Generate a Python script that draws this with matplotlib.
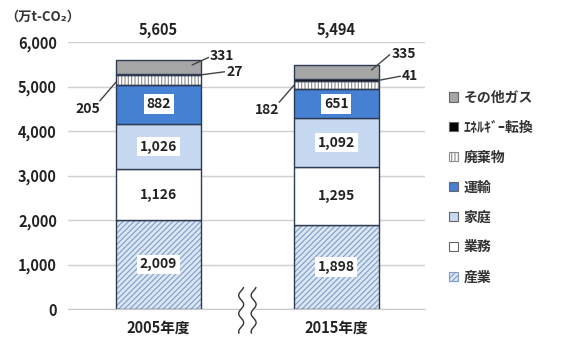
"""
Stacked CO2 emissions by sector, 2005 vs 2015.
"""

import numpy as np
import matplotlib.pyplot as plt
from matplotlib.patches import Patch
from matplotlib.transforms import blended_transform_factory

YEARS = ["2005年度", "2015年度"]
SECTORS = ["産業", "業務", "家庭", "運輸", "廃棄物", "ｴﾈﾙｷﾞｰ転換", "その他ガス"]
INDUSTRY = [2009, 1898]
BUSINESS = [1126, 1295]
HOUSEHOLD = [1026, 1092]
TRANSPORT = [882, 651]
WASTE = [205, 182]
ENERGY = [27, 41]
OTHER_GAS = [331, 335]
TOTALS = [5605, 5494]

FACE_COLORS = ["#dbe6f3", "#ffffff", "#c6d9f1", "#4580d2", "#ffffff", "#000000", "#a6a6a6"]
HATCHES = ["//////", None, None, None, "|||||", None, None]
HATCH_COLORS = ["#7e9ccb", None, None, None, "#8c8c8c", None, None]
EDGE = "#2f3b52"
BAR_WIDTH = 0.48

plt.rcParams.update({
    "font.family": ["Noto Sans CJK JP", "DejaVu Sans"],
    "font.weight": "bold",
    "font.size": 10,
    "hatch.linewidth": 0.8,
})

fig = plt.figure(figsize=(5.71, 3.45), dpi=100)
ax = fig.add_axes([68 / 571, 1 - 309 / 345, (425 - 68) / 571, (309 - 42) / 345])

series = [INDUSTRY, BUSINESS, HOUSEHOLD, TRANSPORT, WASTE, ENERGY, OTHER_GAS]
xs = np.arange(len(YEARS))
bottom = np.zeros(len(YEARS))
for i, vals in enumerate(series):
    vals = np.array(vals, dtype=float)
    if HATCHES[i]:
        ax.bar(xs, vals, BAR_WIDTH, bottom=bottom, facecolor=FACE_COLORS[i],
               hatch=HATCHES[i], edgecolor=HATCH_COLORS[i], linewidth=0, zorder=2)
        ax.bar(xs, vals, BAR_WIDTH, bottom=bottom, fill=False,
               edgecolor=EDGE, linewidth=1.0, zorder=3)
    else:
        ax.bar(xs, vals, BAR_WIDTH, bottom=bottom, facecolor=FACE_COLORS[i],
               edgecolor=EDGE, linewidth=1.0, zorder=3)
    # labels inside the four big segments
    if i < 4:
        for x, b, v in zip(xs, bottom, vals):
            ax.text(x, b + v / 2, f"{int(v):,}", ha="center", va="center",
                    fontsize=10, color="#222222", zorder=4,
                    bbox=dict(boxstyle="square,pad=0.2", fc="white", ec="none"))
    bottom = bottom + vals

# totals above bars
for x, t in zip(xs, TOTALS):
    ax.text(x, 6270, f"{t:,}", ha="center", va="center", fontsize=10.5,
            color="#222222", clip_on=False)

# leader-line annotations for the thin segments
cum = np.cumsum(series, axis=0)
notes = [
    # (value, point x, point y, text x, text y, line end x, line end y, ha)
    (WASTE[0], -0.24, cum[4][0] - 150, -0.40, 4500, -0.33, 4680, "center"),
    (ENERGY[0], 0.24, cum[5][0] - 13, 0.38, 5330, 0.37, 5330, "left"),
    (OTHER_GAS[0], 0.19, cum[6][0] - 120, 0.29, 5680, 0.28, 5650, "left"),
    (WASTE[1], 0.76, cum[4][1] - 100, 0.61, 4470, 0.68, 4650, "center"),
    (ENERGY[1], 1.24, cum[5][1] - 20, 1.37, 5230, 1.36, 5230, "left"),
    (OTHER_GAS[1], 1.20, cum[6][1] - 120, 1.31, 5740, 1.30, 5710, "left"),
]
for v, px, py, tx, ty, lx, ly, ha in notes:
    ax.text(tx, ty, f"{v}", ha=ha, va="center", fontsize=10, color="#222222",
            clip_on=False, zorder=5)
    ax.plot([px, lx], [py, ly], color="#444444", lw=1.0, clip_on=False, zorder=5)

ax.set_xlim(-0.51, 1.50)
ax.set_ylim(0, 6000)
ax.set_yticks(range(0, 6001, 1000))
ax.set_yticklabels([f"{v:,}" for v in range(0, 6001, 1000)], fontsize=10.5)
ax.set_xticks(xs)
ax.set_xticklabels(YEARS, fontsize=10.5)
ax.tick_params(length=0, pad=8, colors="#222222")
ax.yaxis.grid(True, color="#d0d0d0", lw=1.0, zorder=0)
ax.set_axisbelow(True)
for side in ["left", "right", "top"]:
    ax.spines[side].set_visible(False)
ax.spines["bottom"].set_color("#c8c8c8")

fig.text(5 / 571, 1 - 17 / 345, "（万t-CO₂）", fontsize=9.5, ha="left",
         va="center", color="#333333")

# axis break mark between the bars
trans = blended_transform_factory(ax.transData, ax.transAxes)
yy = np.linspace(-0.09, 0.08, 60)
wave = 0.014 * np.sin(yy / 0.17 * 2 * np.pi * 2.5)
left = 0.465 + wave
right = 0.535 + wave
ax.fill_betweenx(yy, left, right, color="white", transform=trans,
                 clip_on=False, zorder=6)
ax.plot(left, yy, color="#333333", lw=1.0, transform=trans, clip_on=False, zorder=7)
ax.plot(right, yy, color="#333333", lw=1.0, transform=trans, clip_on=False, zorder=7)

# legend, top entry first
handles = []
for i in reversed(range(len(SECTORS))):
    handles.append(Patch(facecolor=FACE_COLORS[i], hatch=HATCHES[i] or "",
                         edgecolor=HATCH_COLORS[i] or "#666666", linewidth=0.8,
                         label=SECTORS[i]))
fig.legend(handles=handles, loc="upper left", bbox_to_anchor=(436 / 571, 1 - 78 / 345),
           frameon=False, fontsize=10, handlelength=0.7, handleheight=0.7,
           handletextpad=0.4, labelspacing=1.15, labelcolor="#333333")

fig.savefig("out.png", dpi=100)
